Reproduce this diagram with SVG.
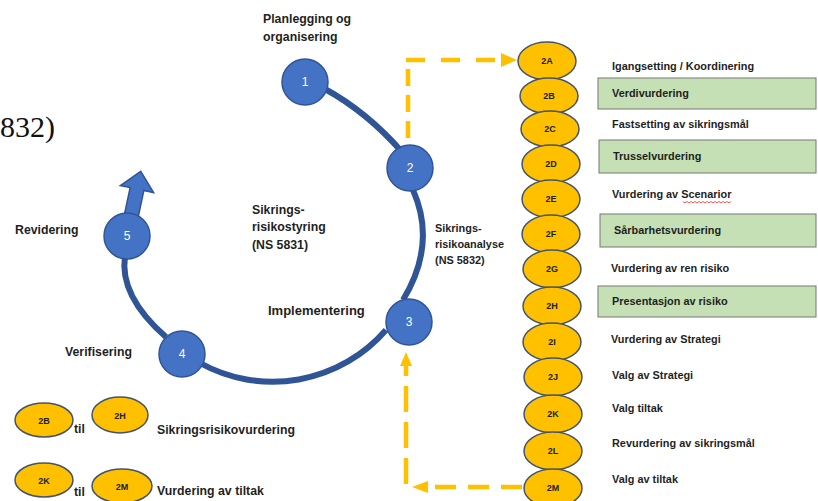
<svg xmlns="http://www.w3.org/2000/svg" width="818" height="501" viewBox="0 0 818 501">
<style>
.t{font-family:"Liberation Sans",Arial,sans-serif;font-weight:bold;fill:#1f1f1f}
.s12{font-size:12.3px}
.s11{font-size:10.9px}
.circ{fill:#4472C4;stroke:#2F5597;stroke-width:1.5}
.ct{font-family:"Liberation Sans",Arial,sans-serif;font-size:12px;fill:#fff;text-anchor:middle}
.ell{fill:#FFC000;stroke:#44546A;stroke-width:1.5}
.et{font-family:"Liberation Sans",Arial,sans-serif;font-weight:bold;font-size:9px;fill:#222;text-anchor:middle}
.arc{fill:none;stroke:#2F5597;stroke-width:6}
.dash{fill:none;stroke:#FFC000;stroke-width:4.5}
.ah{fill:#FFC000}
.box{fill:#C5E0B4;stroke:#777;stroke-width:1}
</style>
<rect width="818" height="501" fill="#fff"/>

<text x="55" y="137" font-family="'Liberation Serif','Times New Roman',serif" font-size="30" fill="#111" text-anchor="end">832)</text>

<g id="connectors">
  <path class="arc" d="M325 89 Q367 112 402 152"/>
  <path class="arc" d="M413 190 Q437 244 403 300"/>
  <path class="arc" d="M386 330 A150 150 0 0 1 200 363"/>
  <path class="arc" d="M166 337 Q119 296 125 256"/>
  <polygon class="circ" points="-7,-5 -7,-48 -17,-48 0,-66 17,-48 7,-48 7,-5" transform="translate(127,236) rotate(12)"/>
  <path class="dash" d="M408 138 V60" stroke-dasharray="17 9"/>
  <path class="dash" d="M406 60 H502" stroke-dasharray="19 16"/>
  <polygon class="ah" points="501,53 517,60 501,67"/>
  <path class="dash" d="M522 487 H428" stroke-dasharray="21 12"/>
  <polygon class="ah" points="428,481 412,487 428,493"/>
  <path class="dash" d="M406 484 V365" stroke-dasharray="26 10"/>
  <polygon class="ah" points="400,366 406,352 412,366"/>
</g>

<g id="n1"><circle class="circ" cx="305" cy="82" r="23"/><text class="ct" x="305" y="86">1</text></g>
<g id="n2"><circle class="circ" cx="410" cy="168" r="23"/><text class="ct" x="410" y="172">2</text></g>
<g id="n3"><circle class="circ" cx="409" cy="322" r="23"/><text class="ct" x="409" y="326">3</text></g>
<g id="n4"><circle class="circ" cx="182" cy="354" r="23"/><text class="ct" x="182" y="358">4</text></g>
<g id="n5"><circle class="circ" cx="127" cy="236" r="23"/><text class="ct" x="127" y="240">5</text></g>

<g id="cycle-labels">
  <text class="t s12" x="263" y="23">Planlegging og</text>
  <text class="t s12" x="263" y="41">organisering</text>
  <text class="t s12" x="15" y="234">Revidering</text>
  <text class="t s12" x="252" y="214">Sikrings-</text>
  <text class="t s12" x="252" y="231">risikostyring</text>
  <text class="t s12" x="252" y="249">(NS 5831)</text>
  <text class="t s12" x="268" y="315" style="font-size:13px">Implementering</text>
  <text class="t s12" x="65" y="356">Verifisering</text>
  <text class="t s11" x="435" y="232">Sikrings-</text>
  <text class="t s11" x="435" y="248">risikoanalyse</text>
  <text class="t s11" x="435" y="264">(NS 5832)</text>
</g>

<g id="green-boxes">
  <rect class="box" x="598" y="78" width="218" height="31"/>
  <rect class="box" x="599" y="140" width="217" height="33"/>
  <rect class="box" x="600" y="214" width="216" height="33"/>
  <rect class="box" x="598" y="286" width="218" height="31"/>
</g>

<g id="steps">
  <g id="s2A"><ellipse class="ell" cx="547" cy="61" rx="29" ry="19"/><text class="et" x="547" y="64">2A</text></g>
  <g id="s2B"><ellipse class="ell" cx="549" cy="96" rx="29" ry="18"/><text class="et" x="549" y="99">2B</text></g>
  <g id="s2C"><ellipse class="ell" cx="550" cy="129" rx="29" ry="18"/><text class="et" x="550" y="132">2C</text></g>
  <g id="s2D"><ellipse class="ell" cx="551" cy="164" rx="29" ry="19"/><text class="et" x="551" y="167">2D</text></g>
  <g id="s2E"><ellipse class="ell" cx="551" cy="199" rx="29" ry="19"/><text class="et" x="551" y="202">2E</text></g>
  <g id="s2F"><ellipse class="ell" cx="551" cy="234" rx="29" ry="19"/><text class="et" x="551" y="237">2F</text></g>
  <g id="s2G"><ellipse class="ell" cx="552" cy="269" rx="29" ry="19"/><text class="et" x="552" y="272">2G</text></g>
  <g id="s2H"><ellipse class="ell" cx="552" cy="306" rx="29" ry="19"/><text class="et" x="552" y="309">2H</text></g>
  <g id="s2I"><ellipse class="ell" cx="552" cy="342" rx="29" ry="19"/><text class="et" x="552" y="345">2I</text></g>
  <g id="s2J"><ellipse class="ell" cx="553" cy="377" rx="29" ry="19"/><text class="et" x="553" y="380">2J</text></g>
  <g id="s2K"><ellipse class="ell" cx="553" cy="414" rx="29" ry="19"/><text class="et" x="553" y="417">2K</text></g>
  <g id="s2L"><ellipse class="ell" cx="553" cy="451" rx="29" ry="19"/><text class="et" x="553" y="454">2L</text></g>
  <g id="s2M"><ellipse class="ell" cx="553" cy="488" rx="29" ry="19"/><text class="et" x="553" y="491">2M</text></g>
</g>

<g id="step-labels">
  <text class="t s11" x="612" y="70">Igangsetting / Koordinering</text>
  <text class="t s11" x="612" y="97">Verdivurdering</text>
  <text class="t s11" x="612" y="128">Fastsetting av sikringsmål</text>
  <text class="t s11" x="613" y="160">Trusselvurdering</text>
  <text class="t s11" x="612" y="198">Vurdering av Scenarior</text>
  <path d="M683 201.5 l2 1.5 l2 -1.5 l2 1.5 l2 -1.5 l2 1.5 l2 -1.5 l2 1.5 l2 -1.5 l2 1.5 l2 -1.5 l2 1.5 l2 -1.5 l2 1.5 l2 -1.5 l2 1.5 l2 -1.5 l2 1.5 l2 -1.5 l2 1.5 l2 -1.5 l2 1.5 l2 -1.5 l2 1.5 l2 -1.5" fill="none" stroke="#e03030" stroke-width="0.8"/>
  <text class="t s11" x="614" y="234">Sårbarhetsvurdering</text>
  <text class="t s11" x="611" y="272">Vurdering av ren risiko</text>
  <text class="t s11" x="612" y="305">Presentasjon av risiko</text>
  <text class="t s11" x="611" y="343">Vurdering av Strategi</text>
  <text class="t s11" x="612" y="379">Valg av Strategi</text>
  <text class="t s11" x="612" y="412">Valg tiltak</text>
  <text class="t s11" x="612" y="447">Revurdering av sikringsmål</text>
  <text class="t s11" x="612" y="483">Valg av tiltak</text>
</g>

<g id="legend">
  <g id="l2B"><ellipse class="ell" cx="44" cy="420" rx="29" ry="17"/><text class="et" x="44" y="424">2B</text></g>
  <g id="l2H"><ellipse class="ell" cx="120" cy="415" rx="28" ry="18"/><text class="et" x="120" y="419">2H</text></g>
  <text class="t s12" x="74" y="433">til</text>
  <text class="t s12" x="157" y="434">Sikringsrisikovurdering</text>
  <g id="l2K"><ellipse class="ell" cx="44" cy="480" rx="29" ry="17"/><text class="et" x="44" y="484">2K</text></g>
  <g id="l2M"><ellipse class="ell" cx="122" cy="486" rx="30" ry="17"/><text class="et" x="122" y="490">2M</text></g>
  <text class="t s12" x="74" y="496">til</text>
  <text class="t s12" x="157" y="495">Vurdering av tiltak</text>
</g>
</svg>
